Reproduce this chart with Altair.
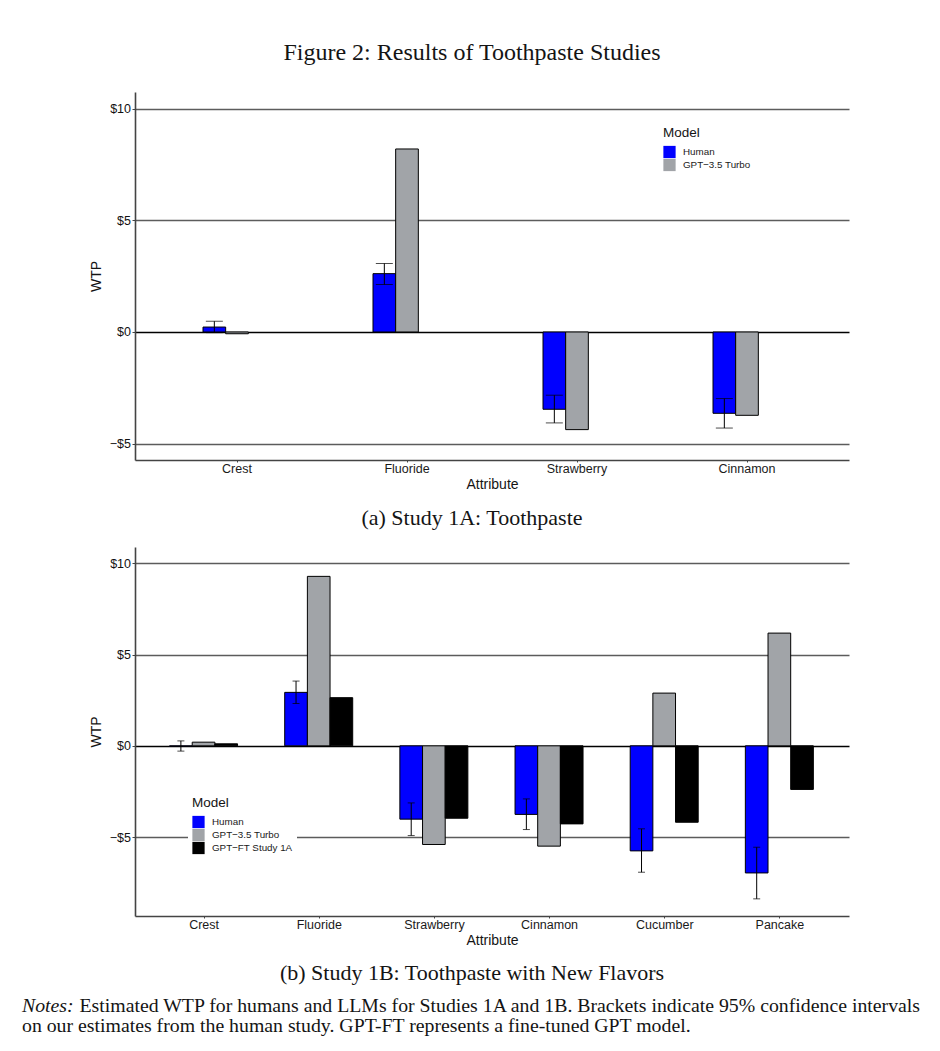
import altair as alt
import pandas as pd

# ---------------- data ----------------
models_a = ["Human", "GPT-3.5 Turbo"]
models_b = ["Human", "GPT-3.5 Turbo", "GPT-FT Study 1A"]
colors_b = ["#0000FF", "#A1A4A8", "#000000"]

attrs_a = ["Crest", "Fluoride", "Strawberry", "Cinnamon"]
human_a = [0.22, 2.61, -3.46, -3.64]
human_a_lo = [-0.03, 2.12, -4.07, -4.30]
human_a_hi = [0.48, 3.07, -2.83, -2.98]
gpt_a = [-0.08, 8.19, -4.37, -3.73]

attrs_b = ["Crest", "Fluoride", "Strawberry", "Cinnamon", "Cucumber", "Pancake"]
human_b = [-0.03, 2.93, -4.02, -3.76, -5.76, -6.97]
human_b_lo = [-0.29, 2.32, -4.92, -4.59, -6.93, -8.39]
human_b_hi = [0.27, 3.55, -3.13, -2.91, -4.55, -5.56]
gpt_b = [0.20, 9.29, -5.41, -5.50, 2.89, 6.18]
ft_b = [0.11, 2.64, -3.97, -4.28, -4.19, -2.39]

y_ticks = [-5, 0, 5, 10]

title_text = "Figure 2: Results of Toothpaste Studies"
caption_a = "(a) Study 1A: Toothpaste"
caption_b = "(b) Study 1B: Toothpaste with New Flavors"
notes_label = "Notes:"
notes_1 = "Estimated WTP for humans and LLMs for Studies 1A and 1B. Brackets indicate 95% confidence intervals"
notes_2 = "on our estimates from the human study. GPT-FT represents a fine-tuned GPT model."

# ---------------- tables ----------------
bars_a = pd.DataFrame(
    [{"Attribute": a, "Model": "Human", "WTP": v} for a, v in zip(attrs_a, human_a)]
    + [{"Attribute": a, "Model": "GPT-3.5 Turbo", "WTP": v} for a, v in zip(attrs_a, gpt_a)]
)
ci_a = pd.DataFrame({"Attribute": attrs_a, "Model": "Human", "lo": human_a_lo, "hi": human_a_hi})

bars_b = pd.DataFrame(
    [{"Attribute": a, "Model": "Human", "WTP": v} for a, v in zip(attrs_b, human_b)]
    + [{"Attribute": a, "Model": "GPT-3.5 Turbo", "WTP": v} for a, v in zip(attrs_b, gpt_b)]
    + [{"Attribute": a, "Model": "GPT-FT Study 1A", "WTP": v} for a, v in zip(attrs_b, ft_b)]
)
ci_b = pd.DataFrame({"Attribute": attrs_b, "Model": "Human", "lo": human_b_lo, "hi": human_b_hi})

SANS = "Liberation Sans"
SERIF = "Liberation Serif"
AXIS_GRAY = "#444444"
TXT = "#141414"
W = 714
CX = 337  # horizontal centre of the page text block, relative to the plot's left edge


def panel(bars, ci, attrs, mods, cols, pad_inner, pad_outer, ydom, h, lx, ly, cap_w):
    xenc = alt.X(
        "Attribute:N",
        sort=attrs,
        scale=alt.Scale(domain=attrs, paddingInner=pad_inner, paddingOuter=pad_outer),
        axis=alt.Axis(title="Attribute", labelAngle=0, labelFont=SANS, labelFontSize=12.5,
                      labelColor="#1a1a1a", titleFont=SANS, titleFontSize=14, titleFontWeight="normal",
                      titleColor=TXT, titlePadding=3, labelPadding=0, tickSize=2,
                      tickColor=AXIS_GRAY, domainColor=AXIS_GRAY, domainWidth=1.6, grid=False),
    )
    xoff = alt.XOffset("Model:N", sort=mods,
                       scale=alt.Scale(domain=mods, paddingInner=0, paddingOuter=0))
    ysc = alt.Scale(domain=ydom, nice=False, zero=False)
    yaxis = alt.Axis(
        values=y_ticks, title="WTP", grid=True,
        gridColor={"condition": {"test": "datum.value === 0", "value": "#000000"}, "value": "#5c5c5c"},
        gridWidth={"condition": {"test": "datum.value === 0", "value": 1.5}, "value": 1.4},
        labelExpr="datum.value < 0 ? '\u2212$' + abs(datum.value) : '$' + datum.value",
        labelFont=SANS, labelFontSize=12.5, labelColor="#111111", labelPadding=1.5,
        titleFont=SANS, titleFontSize=14, titleFontWeight="normal", titleColor=TXT, titlePadding=6,
        tickSize=3, tickColor=AXIS_GRAY, domainColor=AXIS_GRAY, domainWidth=1.6,
    )
    legend = alt.Legend(
        title="Model", orient="none", legendX=lx, legendY=ly, direction="vertical",
        titleFont=SANS, titleFontSize=13.5, titleFontWeight="normal", titleColor=TXT,
        titlePadding=6, labelFont=SANS, labelFontSize=9.8, labelColor="#1a1a1a",
        symbolType="square", symbolSize=150, symbolStrokeWidth=0, symbolOpacity=1,
        rowPadding=0, labelOffset=7, fillColor="white", padding=4,
        labelExpr="replace(datum.label, '-', '\u2212')",
    )
    b = alt.Chart(bars).mark_bar(stroke="black", strokeWidth=1).encode(
        x=xenc, xOffset=xoff,
        y=alt.Y("WTP:Q", scale=ysc, axis=yaxis),
        fill=alt.Fill("Model:N", sort=mods, scale=alt.Scale(domain=mods, range=cols), legend=legend),
    )
    rule = alt.Chart(ci).mark_rule(color="black", strokeWidth=1).encode(
        x=alt.X("Attribute:N", sort=attrs), xOffset=alt.XOffset("Model:N", sort=mods),
        y="lo:Q", y2="hi:Q",
    )
    cap_lo = alt.Chart(ci).mark_tick(color="black", thickness=1, size=cap_w).encode(
        x=alt.X("Attribute:N", sort=attrs), xOffset=alt.XOffset("Model:N", sort=mods), y="lo:Q")
    cap_hi = alt.Chart(ci).mark_tick(color="black", thickness=1, size=cap_w).encode(
        x=alt.X("Attribute:N", sort=attrs), xOffset=alt.XOffset("Model:N", sort=mods), y="hi:Q")
    return [b, rule, cap_lo, cap_hi]


txt = pd.DataFrame({"title": [title_text], "capa": [caption_a], "capb": [caption_b],
                    "n0": [notes_label], "n1": [notes_1], "n2": [notes_2]})


def label(field, x, y, size, align="center", style="normal"):
    return alt.Chart(txt).mark_text(font=SERIF, fontSize=size, fontStyle=style, color=TXT,
                                    align=align, baseline="alphabetic").encode(
        x=alt.value(x), y=alt.value(y), text=f"{field}:N")


HA = 368
HB = 369
layers_a = panel(bars_a, ci_a, attrs_a, models_a, colors_b[:2], 0.6, 0.4, [-5.73, 10.74], HA, 524, 30, 17)
layers_a += [label("title", CX, -32, 24), label("capa", CX, 433, 22)]
pa = alt.layer(*layers_a).properties(width=W, height=HA)

layers_b = panel(bars_b, ci_b, attrs_b, models_b, colors_b, 0.4, 0.3, [-9.33, 10.9], HB, 53, 245, 7)
layers_b += [
    label("capb", CX, 433, 22),
    label("n0", -113, 465, 19.8, align="left", style="italic"),
    label("n1", -55.5, 465, 19.8, align="left"),
    label("n2", -113, 485, 19.8, align="left"),
]
pb = alt.layer(*layers_b).properties(width=W, height=HB)

chart = alt.vconcat(pa, pb, spacing=18).resolve_scale(fill="independent").resolve_legend(
    fill="independent"
).properties(
    padding={"left": 14, "top": 33, "right": 5, "bottom": 5},
).configure_view(stroke=None)

chart.save("out.html", embed_options={"renderer": "svg", "actions": False})
